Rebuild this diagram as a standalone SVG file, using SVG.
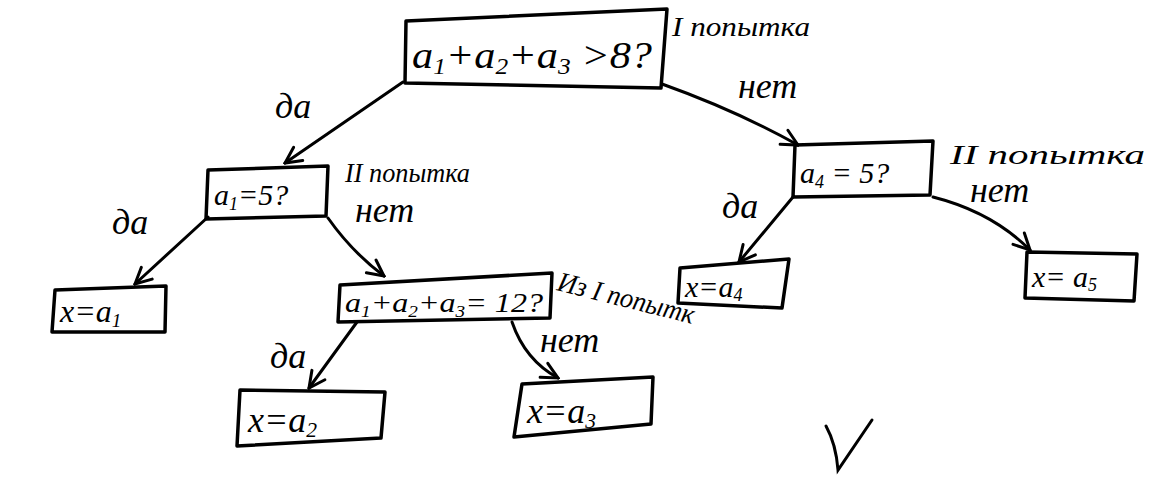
<svg xmlns="http://www.w3.org/2000/svg" width="1162" height="478" viewBox="0 0 1162 478">
<style>
.box{fill:none;stroke:#000;stroke-width:3.5;stroke-linejoin:round}
.con{fill:none;stroke:#000;stroke-width:3;stroke-linecap:round}
text{font-family:"Liberation Serif","DejaVu Serif",serif;font-style:italic;fill:#000}
.lbl{font-size:36px}
.note{font-size:28px}
.sub{font-size:0.6em}
</style>
<defs>
<marker id="ah" viewBox="0 0 20 20" refX="18" refY="10" markerWidth="20" markerHeight="20" markerUnits="userSpaceOnUse" orient="auto">
<path d="M2,2 L18,10 L2,18" fill="none" stroke="#000" stroke-width="3" stroke-linecap="round"/>
</marker>
</defs>
<rect width="1162" height="478" fill="#fff"/>
<g id="connectors">
<path class="con" d="M403,82 L285,163" marker-end="url(#ah)"/>
<path class="con" d="M662,84 Q735,110 798,145" marker-end="url(#ah)"/>
<path class="con" d="M208,217 L135,284" marker-end="url(#ah)"/>
<path class="con" d="M328,218 Q352,252 384,276" marker-end="url(#ah)"/>
<path class="con" d="M793,197 L739,262" marker-end="url(#ah)"/>
<path class="con" d="M933,197 Q992,212 1030,250" marker-end="url(#ah)"/>
<path class="con" d="M357,322 L309,388" marker-end="url(#ah)"/>
<path class="con" d="M512,322 Q525,360 558,378" marker-end="url(#ah)"/>
</g>
<g id="n-root">
<polygon class="box" points="406,21 667,9 661,88 405,83"/>
<text x="412" y="68" font-size="38" textLength="240" lengthAdjust="spacingAndGlyphs">a<tspan class="sub" dy="6">1</tspan><tspan dy="-6">+a</tspan><tspan class="sub" dy="6">2</tspan><tspan dy="-6">+a</tspan><tspan class="sub" dy="6">3</tspan><tspan dy="-6"> &gt;8?</tspan></text>
</g>
<g id="n-a1">
<polygon class="box" points="208,170 328,166 326,216 206,219"/>
<text x="214" y="205" font-size="30">a<tspan class="sub" dy="5">1</tspan><tspan dy="-5">=5?</tspan></text>
</g>
<g id="n-a4">
<polygon class="box" points="795,145 933,141 930,195 793,197"/>
<text x="800" y="183" font-size="30">a<tspan class="sub" dy="5">4</tspan><tspan dy="-5"> = 5?</tspan></text>
</g>
<g id="n-x1">
<polygon class="box" points="55,290 166,286 165,332 52,332"/>
<text x="60" y="322" font-size="32">x=a<tspan class="sub" dy="5">1</tspan></text>
</g>
<g id="n-sum">
<polygon class="box" points="340,285 552,273 550,318 338,322"/>
<text x="345" y="312" font-size="28" textLength="198" lengthAdjust="spacingAndGlyphs">a<tspan class="sub" dy="5">1</tspan><tspan dy="-5">+a</tspan><tspan class="sub" dy="5">2</tspan><tspan dy="-5">+a</tspan><tspan class="sub" dy="5">3</tspan><tspan dy="-5">= 12?</tspan></text>
</g>
<g id="n-x4">
<polygon class="box" points="680,268 789,259 782,308 678,303"/>
<text x="685" y="297" font-size="30">x=a<tspan class="sub" dy="4">4</tspan></text>
</g>
<g id="n-x5">
<polygon class="box" points="1027,252 1137,254 1134,301 1025,298"/>
<text x="1032" y="287" font-size="30">x= a<tspan class="sub" dy="4">5</tspan></text>
</g>
<g id="n-x2">
<polygon class="box" points="240,390 385,392 381,438 237,446"/>
<text x="248" y="432" font-size="36">x=a<tspan class="sub" dy="5">2</tspan></text>
</g>
<g id="n-x3">
<polygon class="box" points="522,384 653,377 651,424 514,437"/>
<text x="527" y="423" font-size="36">x=a<tspan class="sub" dy="5">3</tspan></text>
</g>
<g id="labels">
<text class="lbl" x="275" y="118" font-size="40">да</text>
<text class="note" x="672" y="36" textLength="138" lengthAdjust="spacingAndGlyphs">I попытка</text>
<text class="lbl" x="738" y="98" font-size="40">нет</text>
<text class="note" x="345" y="182" textLength="125" lengthAdjust="spacingAndGlyphs">II попытка</text>
<text class="lbl" x="355" y="222" font-size="34">нет</text>
<text class="lbl" x="112" y="234" font-size="36">да</text>
<text class="note" x="950" y="164" textLength="195" lengthAdjust="spacingAndGlyphs">II попытка</text>
<text class="lbl" x="970" y="202" font-size="34">нет</text>
<text class="lbl" x="722" y="218" font-size="34">да</text>
<text class="note" x="556" y="290" font-size="26" transform="rotate(14 556 290)" textLength="140" lengthAdjust="spacingAndGlyphs">Из I попытк</text>
<text class="lbl" x="540" y="352" font-size="32">нет</text>
<text class="lbl" x="270" y="368" font-size="36">да</text>
</g>
<path class="con" d="M826,426 Q836,444 838,470 L872,420" stroke-width="2.5"/>
</svg>
